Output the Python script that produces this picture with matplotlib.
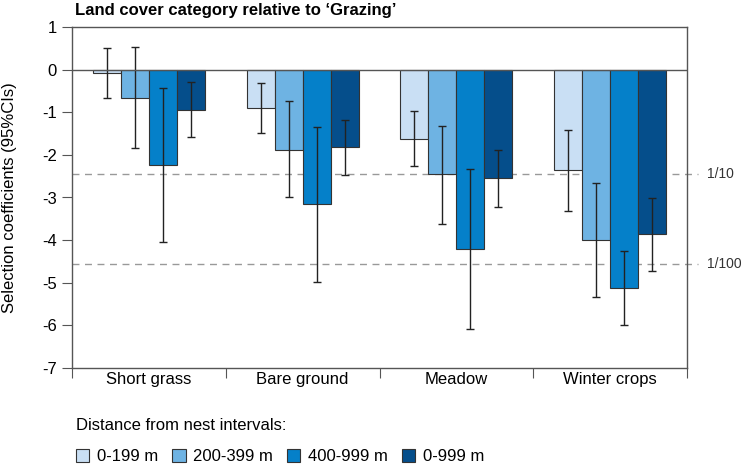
import matplotlib.pyplot as plt
import numpy as np

plt.rcParams['font.family'] = ['Liberation Sans', 'DejaVu Sans']

categories = ['Short grass', 'Bare ground', 'Meadow', 'Winter crops']
intervals = ['0-199 m', '200-399 m', '400-999 m', '0-999 m']

# coefficient per interval (rows) and category (columns)
coef = [
    [-0.07, -0.91, -1.63, -2.36],
    [-0.67, -1.88, -2.46, -4.00],
    [-2.23, -3.16, -4.21, -5.12],
    [-0.95, -1.82, -2.55, -3.86],
]
ci_low = [
    [-0.66, -1.49, -2.27, -3.32],
    [-1.85, -3.00, -3.61, -5.34],
    [-4.05, -4.98, -6.09, -5.99],
    [-1.59, -2.47, -3.22, -4.72],
]
ci_high = [
    [0.50, -0.32, -0.97, -1.42],
    [0.52, -0.74, -1.32, -2.65],
    [-0.42, -1.35, -2.32, -4.25],
    [-0.28, -1.18, -1.88, -3.01],
]
ref_lines = [-2.45, -4.57]
ref_labels = ['1/10', '1/100']

colors = ['#c9dff4', '#6eb3e3', '#0580c9', '#054e8b']

fig = plt.figure(figsize=(7.43, 4.65), dpi=100)
ax = fig.add_axes([72 / 743, 1 - 368 / 465, 615 / 743, 341 / 465])

w = 0.182
x = np.arange(len(categories)) + 0.5
for i in range(len(intervals)):
    pos = x + (i - 1.5) * w
    c = np.array(coef[i])
    lo = c - np.array(ci_low[i])
    hi = np.array(ci_high[i]) - c
    ax.bar(pos, c, width=w, color=colors[i], edgecolor='#333333',
           linewidth=0.8, label=intervals[i], zorder=2)
    ax.errorbar(pos, c, yerr=[lo, hi], fmt='none', ecolor='#222222',
                elinewidth=1, capsize=3, capthick=1, zorder=3)

ax.axhline(0, color='#555555', linewidth=1, zorder=4)
for yv, lab in zip(ref_lines, ref_labels):
    ax.plot([0, 4.07], [yv, yv], color='#999999', linestyle=(0, (5, 4)),
            linewidth=1, clip_on=False, zorder=1)
    ax.text(4.13, yv, lab, va='center', ha='left', fontsize=10,
            color='#333333')

ax.set_xlim(0, 4)
ax.set_ylim(-7, 1)
ax.set_yticks(range(-7, 2))
ax.set_yticklabels([str(v) for v in range(-7, 2)], fontsize=12)
ax.set_xticks(range(5))
ax.set_xticklabels([])
ax.set_xticks(x, minor=True)
ax.set_xticklabels(categories, minor=True, fontsize=12)
ax.tick_params(axis='x', which='minor', length=0, pad=3)
ax.tick_params(axis='x', which='major', length=7, color='#555555')
ax.tick_params(axis='y', length=7, color='#555555', pad=4)
for s in ax.spines.values():
    s.set_color('#555555')
    s.set_linewidth(1)

ax.set_ylabel('Selection coefficients (95%CIs)', fontsize=12)
ax.yaxis.set_label_coords(-0.089, 0.5)
fig.text(75 / 743, 1 - 10 / 465, 'Land cover category relative to \u2018Grazing\u2019',
         fontsize=12, fontweight='bold', va='center', ha='left')

leg = fig.legend(loc='lower left', bbox_to_anchor=(61 / 743, -0.031), ncol=4,
                 frameon=False, fontsize=12, handlelength=0.8,
                 handleheight=0.8, handletextpad=0.45, columnspacing=0.85,
                 title='Distance from nest intervals:', title_fontsize=12)
leg._legend_box.align = 'left'
leg._legend_box.sep = 12

fig.savefig('out.png', dpi=100)
